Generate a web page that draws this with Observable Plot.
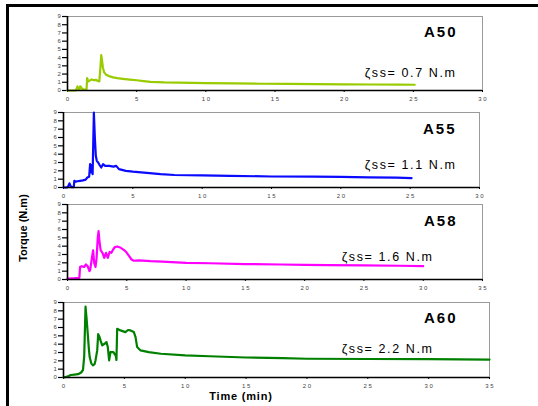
<!DOCTYPE html>
<html>
<head>
<meta charset="utf-8">
<script src="https://cdn.jsdelivr.net/npm/d3@7"></script>
<script src="https://cdn.jsdelivr.net/npm/@observablehq/plot@0.6"></script>
<style>
  html, body { margin: 0; padding: 0; background: #fff; }
  #wrap { position: relative; width: 538px; height: 406px; overflow: hidden; font-family: "Liberation Sans", Arial, sans-serif; }
  #wrap svg { position: absolute; left: 0; overflow: visible; }
  .frame-top { position: absolute; left: 6px; top: 4px; width: 532px; height: 2.5px; background: #000; }
  .frame-left { position: absolute; left: 6px; top: 4px; width: 2.6px; height: 402px; background: #000; }
  .ylab { position: absolute; font: bold 11px "Liberation Sans", Arial, sans-serif; color: #000; white-space: nowrap; }
</style>
</head>
<body>
<div id="wrap">
  <div class="frame-top"></div>
  <div class="frame-left"></div>
</div>
<script>
// ---- data ----
const sampleNames = ["A50", "A55", "A58", "A60"];
const steadyLabels = ["ζss= 0.7 N.m", "ζss= 1.1 N.m", "ζss= 1.6 N.m", "ζss= 2.2 N.m"];
const seriesColors = ["#99cc00", "#0a0aff", "#ff00ff", "#008000"];
const xMaxes = [30, 30, 35, 35];
const yTicks = [0, 1, 2, 3, 4, 5, 6, 7, 8, 9];
const xTicks30 = [0, 5, 10, 15, 20, 25, 30];
const xTicks35 = [0, 5, 10, 15, 20, 25, 30, 35];

const timeA50 = [0, 0.6, 0.68, 0.72, 0.8, 0.86, 0.92, 0.98, 1.06, 1.15, 1.3, 1.38, 1.42, 1.5, 1.6, 1.75, 1.9, 2.05, 2.2, 2.3, 2.38, 2.44, 2.5, 2.56, 2.65, 2.8, 3.0, 3.3, 3.6, 4.0, 4.5, 5.0, 5.5, 6.0, 7.0, 8.0, 9.0, 10, 12, 14, 16, 18, 20, 22, 24, 25.1];
const torqueA50 = [0, 0, 0.3, 0.5, 0.2, 0.1, 0.5, 0.4, 0.2, 0.15, 0.1, 0.2, 1.5, 1.1, 1.2, 1.35, 1.25, 1.3, 1.15, 1.1, 2.8, 4.3, 3.6, 2.8, 2.2, 1.9, 1.75, 1.6, 1.5, 1.42, 1.33, 1.25, 1.15, 1.05, 0.98, 0.95, 0.92, 0.9, 0.87, 0.82, 0.8, 0.77, 0.74, 0.73, 0.71, 0.7];

const timeA55 = [0, 0.25, 0.35, 0.43, 0.5, 0.6, 0.74, 0.78, 0.9, 1.0, 1.2, 1.4, 1.6, 1.72, 1.85, 1.92, 1.97, 2.04, 2.1, 2.19, 2.26, 2.33, 2.4, 2.5, 2.6, 2.72, 2.85, 3.0, 3.3, 3.6, 3.8, 4.0, 4.5, 5.0, 6.0, 7.0, 8.0, 10, 12, 15, 18, 20, 22, 24, 25.1];
const torqueA55 = [0, 0, 0.2, 0.5, 0.2, 0.05, 0.05, 0.8, 0.7, 0.75, 0.8, 0.85, 0.95, 1.2, 1.3, 2.8, 1.8, 2.7, 1.6, 9.0, 6.0, 3.8, 3.2, 3.0, 2.7, 2.4, 2.8, 2.6, 2.6, 2.5, 2.6, 2.2, 2.0, 1.9, 1.75, 1.6, 1.5, 1.45, 1.4, 1.32, 1.3, 1.27, 1.22, 1.18, 1.12];

const timeA58 = [0, 0.5, 1.0, 1.06, 1.2, 1.4, 1.55, 1.7, 1.85, 1.92, 2.05, 2.16, 2.25, 2.36, 2.45, 2.55, 2.62, 2.7, 2.8, 2.95, 3.1, 3.25, 3.4, 3.55, 3.7, 3.85, 4.0, 4.2, 4.5, 4.8, 5.0, 5.2, 5.4, 5.6, 6.0, 7.0, 8.0, 10, 12, 15, 18, 20, 22, 25, 28, 30];
const torqueA58 = [0.1, 0.15, 0.2, 1.5, 1.6, 1.5, 1.8, 1.6, 1.0, 1.2, 2.5, 3.5, 2.0, 1.5, 2.5, 5.0, 5.8, 4.5, 3.5, 3.2, 2.6, 3.2, 2.6, 3.3, 3.2, 3.6, 3.9, 3.95, 3.8, 3.5, 3.2, 2.8, 2.4, 2.25, 2.3, 2.2, 2.15, 2.0, 1.95, 1.85, 1.8, 1.75, 1.72, 1.7, 1.65, 1.6];

const timeA60 = [0, 0.3, 0.6, 0.9, 1.2, 1.45, 1.6, 1.7, 1.81, 1.9, 1.99, 2.08, 2.15, 2.28, 2.42, 2.55, 2.63, 2.77, 2.85, 2.95, 3.04, 3.18, 3.37, 3.53, 3.64, 3.75, 3.86, 4.1, 4.3, 4.35, 4.41, 4.68, 5.09, 5.3, 5.5, 5.78, 5.92, 6.05, 6.33, 7.0, 8.0, 10, 12, 15, 18, 20, 25, 30, 35];
const torqueA60 = [0, 0.1, 0.3, 0.35, 0.4, 0.6, 0.9, 2.5, 8.5, 7.0, 5.3, 3.5, 2.45, 1.7, 1.45, 1.6, 2.05, 3.25, 5.2, 4.9, 4.45, 3.85, 4.05, 4.25, 3.65, 2.05, 3.05, 3.05, 2.6, 2.1, 5.85, 5.65, 5.45, 5.7, 5.65, 5.45, 4.85, 3.65, 3.25, 3.05, 2.85, 2.65, 2.55, 2.4, 2.32, 2.25, 2.22, 2.2, 2.15];

const times = [timeA50, timeA55, timeA58, timeA60];
const torques = [torqueA50, torqueA55, torqueA58, torqueA60];

// ---- layout (pixels) ----
const W = 538;
const panels = [
  {left: 67, right: 482, top: 16, bottom: 90, nameDx: -25, nameDy: 16, ssDx: -26, ssDy: 56},
  {left: 63, right: 479, top: 112, bottom: 187, nameDx: -23, nameDy: 17, ssDx: -23, ssDy: 52},
  {left: 67, right: 482, top: 204, bottom: 279, nameDx: -25, nameDy: 17, ssDx: -49, ssDy: 52},
  {left: 63, right: 489, top: 302, bottom: 377, nameDx: -32, nameDy: 16, ssDx: -56, ssDy: 46}
];

const wrap = document.getElementById("wrap");
const spaced = d => String(d).split("").join(" ");

panels.forEach((p, i) => {
  const data = times[i].map((t, k) => ({t, v: torques[i][k]}));
  const mt = 10, mb = 22;
  const chart = Plot.plot({
    width: W,
    height: (p.bottom - p.top) + mt + mb,
    marginLeft: p.left,
    marginRight: W - p.right,
    marginTop: mt,
    marginBottom: mb,
    style: {fontFamily: "Liberation Sans, Arial, sans-serif", background: "transparent", overflow: "visible"},
    x: {domain: [0, xMaxes[i]]},
    y: {domain: [0, 9]},
    marks: [
      Plot.frame({stroke: "#9a9a9a", strokeWidth: 1}),
      Plot.axisY({ticks: yTicks, tickSize: 5, tickPadding: 1.7, fontSize: 6, fill: "#444", stroke: "#000", strokeWidth: 1.2, label: null}),
      Plot.axisX({ticks: xMaxes[i] === 30 ? xTicks30 : xTicks35, tickSize: 2, tickPadding: 4, fontSize: 6, fill: "#444", stroke: "#000", label: null, tickFormat: spaced}),
      Plot.line(data, {x: "t", y: "v", stroke: seriesColors[i], strokeWidth: 2.2, strokeLinejoin: "round"}),
      Plot.ruleX([0], {stroke: "#000", strokeWidth: 1.6}),
      Plot.ruleY([0], {stroke: "#000", strokeWidth: 1.6}),
      Plot.text([sampleNames[i]], {text: d => d, frameAnchor: "top-right", dx: p.nameDx, dy: p.nameDy, lineAnchor: "middle", fontSize: 15, fontWeight: "bold", fill: "#000", className: "nm"}),
      Plot.text([steadyLabels[i]], {text: d => d, frameAnchor: "top-right", dx: p.ssDx, dy: p.ssDy, lineAnchor: "middle", fontSize: 12.5, fill: "#000", className: "ss"})
    ]
  });
  chart.querySelectorAll(".nm text, text.nm, g.nm text").forEach(t => t.setAttribute("letter-spacing", "2"));
  chart.querySelectorAll(".ss text, text.ss, g.ss text").forEach(t => t.setAttribute("letter-spacing", "1.6"));
  chart.style.top = (p.top - mt) + "px";
  wrap.appendChild(chart);
});

// axis titles
const yl = document.createElement("div");
yl.className = "ylab";
yl.textContent = "Torque (N.m)";
yl.style.left = "23px";
yl.style.top = "228px";
yl.style.transform = "translate(-50%, -50%) rotate(-90deg)";
wrap.appendChild(yl);

const xl = document.createElement("div");
xl.className = "ylab";
xl.textContent = "Time (min)";
xl.style.letterSpacing = "0.8px";
xl.style.left = "241px";
xl.style.top = "396px";
xl.style.transform = "translate(-50%, -50%)";
wrap.appendChild(xl);
</script>
</body>
</html>
